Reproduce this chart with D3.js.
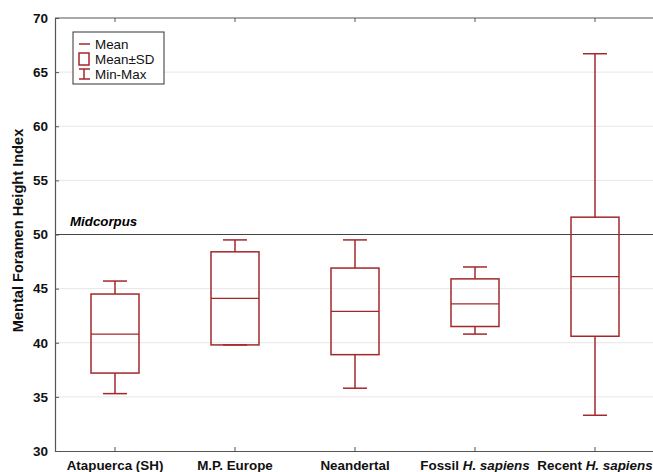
<!DOCTYPE html>
<html><head><meta charset="utf-8">
<script src="https://cdn.jsdelivr.net/npm/d3@7"></script>
<style>body{margin:0;background:#fff}svg{display:block;font-family:"Liberation Sans",Arial,sans-serif}</style>
</head><body>
<svg id="c" width="653" height="472"></svg>
<script>
const categories = ["Atapuerca (SH)", "M.P. Europe", "Neandertal", "Fossil H. sapiens", "Recent H. sapiens"];
const means   = [40.8, 44.1, 42.9, 43.6, 46.1];
const sdLow   = [37.2, 39.8, 38.9, 41.5, 40.6];
const sdHigh  = [44.5, 48.4, 46.9, 45.9, 51.6];
const mins    = [35.3, 39.8, 35.8, 40.8, 33.3];
const maxs    = [45.7, 49.5, 49.5, 47.0, 66.7];
const yTicks  = [30, 35, 40, 45, 50, 55, 60, 65, 70];
const refValue = 50;

const svg = d3.select("#c");
const m = {l:55, r:-2, t:18, b:21};
const W = 653, H = 472;
const red = "#a3282b";
const x = d3.scaleBand().domain(categories).range([m.l, W - m.r]);
const y = d3.scaleLinear().domain([30, 70]).range([H - m.b, m.t]);

// gridlines
svg.append("g").selectAll("line").data(yTicks.filter(t => t > 30 && t < 70)).join("line")
  .attr("x1", m.l).attr("x2", W).attr("y1", d => y(d)).attr("y2", d => y(d))
  .attr("stroke", "#e6e6e6").attr("stroke-width", 1);

// reference line
svg.append("line").attr("x1", m.l).attr("x2", W).attr("y1", y(refValue)).attr("y2", y(refValue))
  .attr("stroke", "#444").attr("stroke-width", 1.2);
svg.append("text").attr("x", 70).attr("y", y(refValue) - 9)
  .attr("font-size", 13.3).attr("font-weight", "bold").attr("font-style", "italic").text("Midcorpus");

// frame
svg.append("line").attr("x1", m.l).attr("x2", W).attr("y1", m.t).attr("y2", m.t).attr("stroke", "#555").attr("stroke-width", 1.2);
const yAxis = svg.append("g").attr("transform", `translate(${m.l},0)`)
  .call(d3.axisLeft(y).tickValues(yTicks).tickSizeInner(-4).tickSizeOuter(0).tickPadding(7));
yAxis.select(".domain").attr("stroke", "#555").attr("stroke-width", 1.2);
yAxis.selectAll(".tick line").attr("stroke", "#555");
yAxis.selectAll("text").attr("font-size", 13.5).attr("font-weight", "bold").attr("fill", "#111")
  .attr("font-family", "'Liberation Sans',Arial,sans-serif");

const xAxis = svg.append("g").attr("transform", `translate(0,${H - m.b})`)
  .call(d3.axisBottom(x).tickSizeInner(-4).tickSizeOuter(0).tickFormat(""));
xAxis.select(".domain").attr("stroke", "#555").attr("stroke-width", 1.2);
xAxis.selectAll(".tick line").attr("stroke", "#555");
svg.append("g").attr("transform", `translate(0,${m.t})`)
  .call(d3.axisTop(x).tickSizeInner(-4).tickSizeOuter(0).tickFormat(""))
  .call(g => { g.select(".domain").remove(); g.selectAll(".tick line").attr("stroke", "#555"); });

// x labels
const lbl = svg.append("g").selectAll("text").data(categories).join("text")
  .attr("x", d => x(d) + x.bandwidth() / 2).attr("y", H - 2)
  .attr("text-anchor", "middle").attr("font-size", 13.4).attr("font-weight", "bold").attr("fill", "#111");
lbl.each(function(d) {
  const t = d3.select(this);
  const mm = d.match(/^(.*?)(H\. sapiens)$/);
  if (mm) { t.append("tspan").text(mm[1]); t.append("tspan").attr("font-style", "italic").text(mm[2]); }
  else t.text(d);
});

// y title
svg.append("text").attr("transform", `translate(23,${(m.t + H - m.b) / 2 - 4}) rotate(-90)`)
  .attr("text-anchor", "middle").attr("font-size", 14.6).attr("font-weight", "bold").attr("fill", "#111")
  .text("Mental Foramen Height Index");

// boxes
const bw = 48, cw = 24;
const g = svg.append("g").selectAll("g").data(categories).join("g")
  .attr("transform", d => `translate(${x(d) + x.bandwidth() / 2},0)`);
g.append("line").attr("y1", (d,i) => y(maxs[i])).attr("y2", (d,i) => y(sdHigh[i])).attr("stroke", red).attr("stroke-width", 1.5);
g.append("line").attr("y1", (d,i) => y(mins[i])).attr("y2", (d,i) => y(sdLow[i])).attr("stroke", red).attr("stroke-width", 1.5);
g.append("line").attr("x1", -cw/2).attr("x2", cw/2).attr("y1", (d,i) => y(maxs[i])).attr("y2", (d,i) => y(maxs[i])).attr("stroke", red).attr("stroke-width", 1.5);
g.append("line").attr("x1", -cw/2).attr("x2", cw/2).attr("y1", (d,i) => y(mins[i])).attr("y2", (d,i) => y(mins[i])).attr("stroke", red).attr("stroke-width", 1.5);
g.append("rect").attr("x", -bw/2).attr("width", bw)
  .attr("y", (d,i) => y(sdHigh[i])).attr("height", (d,i) => y(sdLow[i]) - y(sdHigh[i]))
  .attr("fill", "none").attr("stroke", red).attr("stroke-width", 1.5);
g.append("line").attr("x1", -bw/2).attr("x2", bw/2).attr("y1", (d,i) => y(means[i])).attr("y2", (d,i) => y(means[i])).attr("stroke", red).attr("stroke-width", 1.2);

// legend
const L = svg.append("g").attr("transform", "translate(73,32)");
L.append("rect").attr("width", 91).attr("height", 52).attr("fill", "#fff").attr("stroke", "#333").attr("stroke-width", 1);
L.append("line").attr("x1", 6).attr("x2", 17).attr("y1", 12).attr("y2", 12).attr("stroke", red).attr("stroke-width", 1.5);
L.append("rect").attr("x", 6).attr("y", 21).attr("width", 10).attr("height", 12).attr("fill", "none").attr("stroke", red).attr("stroke-width", 1.5);
L.append("line").attr("x1", 11).attr("x2", 11).attr("y1", 37).attr("y2", 47).attr("stroke", red).attr("stroke-width", 1.5);
L.append("line").attr("x1", 6).attr("x2", 17).attr("y1", 37).attr("y2", 37).attr("stroke", red).attr("stroke-width", 1.5);
L.append("line").attr("x1", 6).attr("x2", 17).attr("y1", 47).attr("y2", 47).attr("stroke", red).attr("stroke-width", 1.5);
["Mean", "Mean\u00b1SD", "Min-Max"].forEach((t, i) => {
  L.append("text").attr("x", 22).attr("y", 16.5 + i * 15).attr("font-size", 13.4).attr("fill", "#111").text(t);
});
</script>
</body></html>
